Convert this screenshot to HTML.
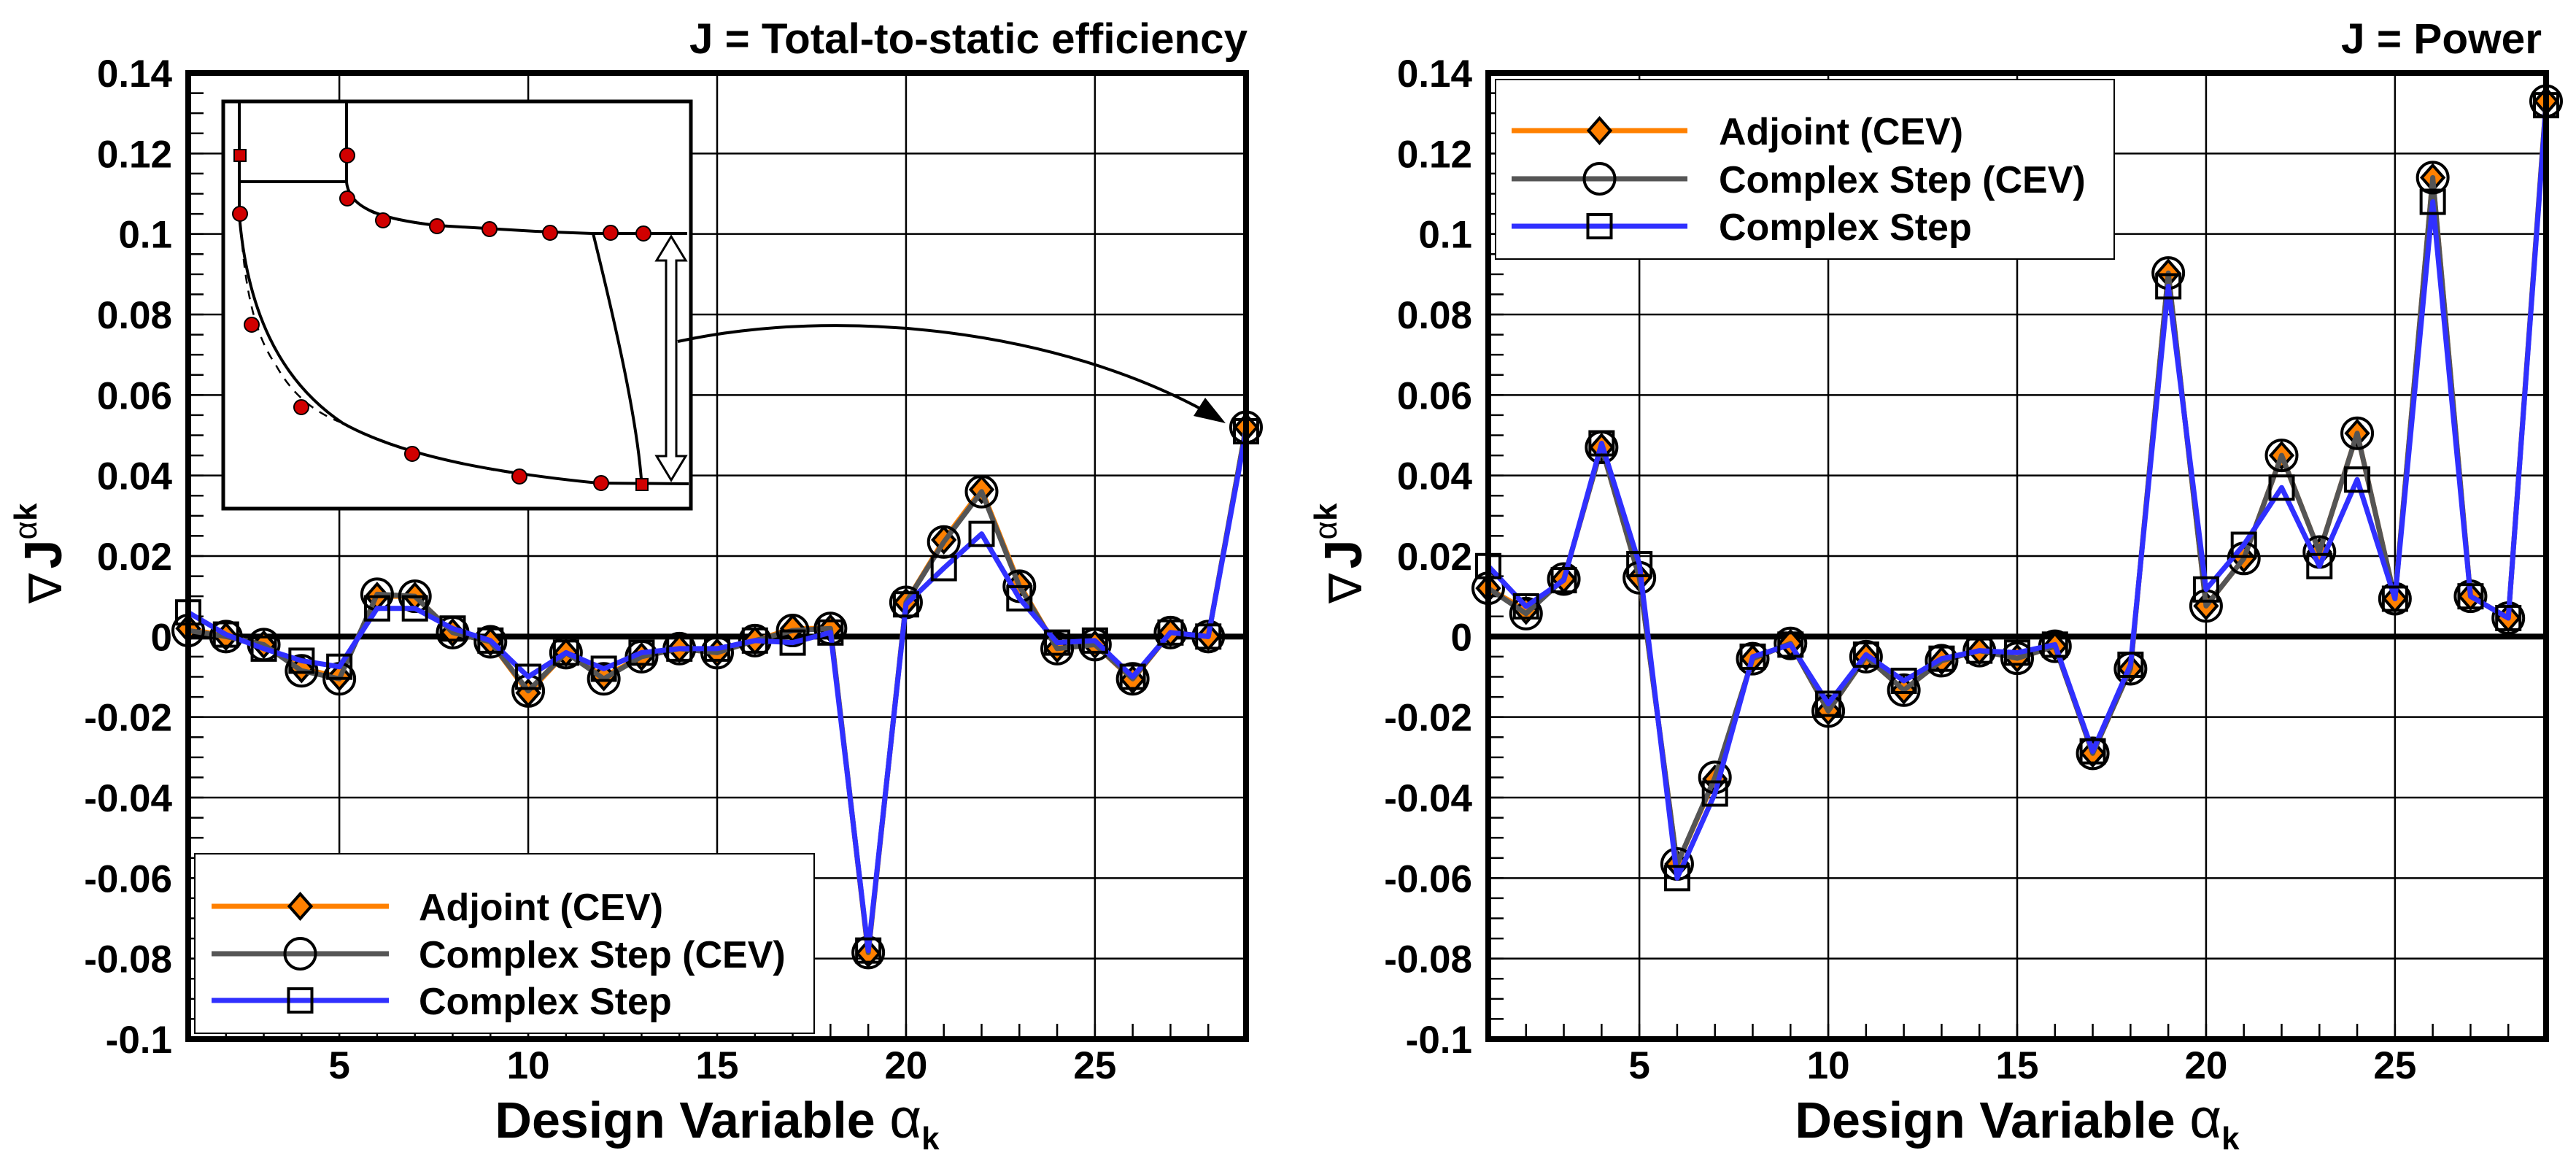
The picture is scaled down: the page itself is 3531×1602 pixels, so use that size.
<!DOCTYPE html>
<html><head><meta charset="utf-8"><style>
html,body{margin:0;padding:0;background:#fff;}
svg{display:block;font-family:"Liberation Sans",sans-serif;}
</style></head><body>
<svg id="root" width="3531" height="1602" viewBox="0 0 3531 1602" xmlns="http://www.w3.org/2000/svg">
<rect width="3531" height="1602" fill="#fff"/>
</svg>
<script>
const designVars=[1,2,3,4,5,6,7,8,9,10,11,12,13,14,15,16,17,18,19,20,21,22,23,24,25,26,27,28,29];
const yTicks=[0.14,0.12,0.1,0.08,0.06,0.04,0.02,0,-0.02,-0.04,-0.06,-0.08,-0.1];
const yTickLabels=["0.14","0.12","0.1","0.08","0.06","0.04","0.02","0","-0.02","-0.04","-0.06","-0.08","-0.1"];
const xTicks=[5,10,15,20,25];
const seriesNames=["Adjoint (CEV)","Complex Step (CEV)","Complex Step"];
// Left: total-to-static efficiency
const effAdjoint=[0.002,0.0,-0.002,-0.008,-0.010,0.010,0.010,0.001,-0.0013,-0.014,-0.004,-0.010,-0.005,-0.003,-0.004,-0.001,0.002,0.002,-0.0787,0.0085,0.024,0.0365,0.013,-0.003,-0.002,-0.0107,0.001,0.0,0.052];
const effCSCEV=[0.0015,0.0,-0.002,-0.0085,-0.0105,0.0105,0.010,0.001,-0.0013,-0.0135,-0.004,-0.0105,-0.005,-0.003,-0.004,-0.001,0.0015,0.002,-0.0785,0.0085,0.0235,0.036,0.0125,-0.003,-0.002,-0.0105,0.001,0.0,0.052];
const effCS=[0.006,0.0005,-0.003,-0.006,-0.0075,0.007,0.007,0.002,-0.001,-0.010,-0.004,-0.008,-0.004,-0.003,-0.003,-0.001,-0.0015,0.001,-0.078,0.008,0.017,0.0255,0.0095,-0.0015,-0.001,-0.010,0.001,0.0,0.051];
// Right: power
const powAdjoint=[0.012,0.0065,0.0143,0.047,0.0146,-0.0565,-0.0354,-0.0055,-0.0017,-0.0185,-0.005,-0.0133,-0.006,-0.0035,-0.0054,-0.0024,-0.029,-0.008,0.0903,0.0076,0.0194,0.045,0.021,0.0505,0.0094,0.114,0.010,0.0046,0.133];
const powCSCEV=[0.012,0.0057,0.0143,0.047,0.0146,-0.0565,-0.035,-0.0055,-0.0017,-0.0185,-0.005,-0.0133,-0.006,-0.0035,-0.0054,-0.0024,-0.029,-0.008,0.0903,0.0076,0.0194,0.045,0.021,0.0505,0.0094,0.114,0.010,0.0046,0.133];
const powCS=[0.0175,0.0075,0.014,0.048,0.018,-0.060,-0.039,-0.005,-0.002,-0.0167,-0.0045,-0.011,-0.0055,-0.0035,-0.004,-0.002,-0.0285,-0.007,0.087,0.0117,0.0228,0.037,0.0175,0.039,0.0094,0.108,0.010,0.0046,0.132];

const NS="http://www.w3.org/2000/svg";
const root=document.getElementById('root');
function mk(tag,attrs,parent){const e=document.createElementNS(NS,tag);for(const k in attrs)e.setAttribute(k,attrs[k]);(parent||root).appendChild(e);return e;}

function drawPanel(x0,x1,ya,name){
  const y0=100,y1=1424;
  const g=mk('g',{});
  
  
  const sx=v=>x0+(v-1)*(x1-x0)/28;
  const sy=v=>y0+(0.14-v)*(y1-y0)/0.24;
  yTicks.forEach(t=>{if(t!==0&&t!==0.14&&t!==-0.1){const l=mk('line',{x1:x0,x2:x1,y1:sy(t),y2:sy(t),stroke:'#000','stroke-width':2.5},g);}});
  xTicks.forEach(t=>{const l=mk('line',{x1:sx(t),x2:sx(t),y1:y0,y2:y1,stroke:'#000','stroke-width':2.5},g);});
  for(let v=-0.1;v<=0.14+1e-9;v+=0.005){mk('line',{x1:x0,x2:x0+21,y1:sy(v),y2:sy(v),stroke:'#000','stroke-width':2.5},g);}
  designVars.forEach(k=>{mk('line',{x1:sx(k),x2:sx(k),y1:y1,y2:y1-21,stroke:'#000','stroke-width':2.5},g);});
  const z=mk('line',{x1:x0,x2:x1,y1:sy(0),y2:sy(0),stroke:'#000','stroke-width':8},g);
  
  yTicks.forEach((t,i)=>{const tx=mk('text',{x:x0-22,y:sy(t)+19,'text-anchor':'end','font-size':53,'font-weight':'bold'},g);tx.textContent=yTickLabels[i];});
  xTicks.forEach(t=>{const tx=mk('text',{x:sx(t),y:1478,'text-anchor':'middle','font-size':53,'font-weight':'bold'},g);tx.textContent=String(t);});
  return {g,sx,sy};
}
function drawSeries(g,sx,sy,vals,color,marker,nm){
  const sg=mk('g',{},g);
  
  
  const pts=designVars.map((k,i)=>sx(k)+','+sy(vals[i])).join(' ');
  const pl=mk('polyline',{points:pts,fill:'none',stroke:color,'stroke-width':7,'stroke-linejoin':'round'},sg);
  
  designVars.forEach((k,i)=>{const m=drawMarker(sg,sx(k),sy(vals[i]),marker);});
}
function drawMarker(g,x,y,type){
  if(type==='diamond')return mk('polygon',{points:`${x},${y-17} ${x+15},${y} ${x},${y+17} ${x-15},${y}`,fill:'#ff8000',stroke:'#000','stroke-width':4},g);
  if(type==='circle')return mk('circle',{cx:x,cy:y,r:21,fill:'none',stroke:'#000','stroke-width':4},g);
  return mk('rect',{x:x-16,y:y-16,width:32,height:32,fill:'none',stroke:'#000','stroke-width':4},g);
}
function drawFrame(g,x0,x1){const f=mk('rect',{x:x0,y:100,width:x1-x0,height:1324,fill:'none',stroke:'#000','stroke-width':8},g);}
function drawLegend(g,bx,by,bw,bh,rows,lx0,lx1,tx){
  const lg=mk('g',{},g);
  mk('rect',{x:bx,y:by,width:bw,height:bh,fill:'#fff',stroke:'#000','stroke-width':2},lg);
  const cols=['#ff8000','#555555','#3030ff'],mks=['diamond','circle','square'];
  rows.forEach((ry,i)=>{
    const e=mk('g',{},lg);
    mk('line',{x1:lx0,x2:lx1,y1:ry,y2:ry,stroke:cols[i],'stroke-width':7},e);
    drawMarker(e,(lx0+lx1)/2,ry,mks[i]);
    const t=mk('text',{x:tx,y:ry+19,'font-size':52,'font-weight':'bold'},e);t.textContent=seriesNames[i];
  });
}
function yTitle(g,x,y){
  const t=mk('text',{transform:`translate(${x},${y}) rotate(-90)`,'font-size':72,'font-weight':'bold'},g);
  
  t.innerHTML='<tspan font-weight="normal" font-size="62">∇</tspan><tspan dx="6">J</tspan><tspan font-size="44" dy="-34" font-weight="normal">α</tspan><tspan font-size="44">k</tspan>';
}
function xTitle(g,cx){
  const t=mk('text',{x:cx,y:1559,'text-anchor':'middle','font-size':70,'font-weight':'bold'},g);
  
  t.innerHTML='Design Variable <tspan font-weight="normal" font-size="76">α</tspan><tspan font-size="44" dy="16">k</tspan>';
}

let P=drawPanel(258,1708,0,'efficiency-chart');
(function(){
  const g=mk('g',{},P.g);
  mk('rect',{x:306,y:139,width:641,height:558,fill:'#fff',stroke:'#000','stroke-width':5},g);
  const s={fill:'none',stroke:'#000','stroke-width':4};
  mk('line',Object.assign({x1:328,y1:139,x2:328,y2:294},s),g);
  mk('line',Object.assign({x1:475,y1:139,x2:475,y2:249},s),g);
  mk('line',Object.assign({x1:328,y1:249,x2:475,y2:249},s),g);
  mk('path',Object.assign({d:'M475,249 C478,285 520,300 599,309 L734,317 L812,320 L942,320'},s),g);
  mk('path',Object.assign({d:'M328,294 C338,420 380,520 470,580 C560,630 700,650 820,662 L944,663'},s),g);
  mk('path',Object.assign({d:'M813,320 C845,450 872,570 879,656'},s),g);
  const d={fill:'none',stroke:'#000','stroke-width':2.5,'stroke-dasharray':'12,10'};
  mk('path',Object.assign({d:'M476,254 C485,285 520,300 560,303 L600,309'},d),g);
  mk('path',Object.assign({d:'M330,311 C336,400 350,460 378,500 C400,540 430,565 470,580 C530,610 600,632 700,648'},d),g);
  [[329,293],[345,445],[413,558],[565,622],[712,653],[824,662],[476,213],[476,272],[525,302],[599,310],[671,314],[754,319],[837,319],[882,320]].forEach(p=>mk('circle',{cx:p[0],cy:p[1],r:10,fill:'#d00000',stroke:'#000','stroke-width':2},g));
  [[329,213],[880,664]].forEach(p=>mk('rect',{x:p[0]-8,y:p[1]-8,width:16,height:16,fill:'#d00000',stroke:'#000','stroke-width':2},g));
  mk('path',{d:'M920,324 L940,357 L927,357 L927,625 L940,625 L920,658 L900,625 L913,625 L913,357 L900,357 Z',fill:'#fff',stroke:'#000','stroke-width':3},g);
})();
const ar=mk('path',{d:'M929,468 C1150,420 1450,450 1660,568',fill:'none',stroke:'#000','stroke-width':4},P.g);

mk('polygon',{points:'1680,580 1636,570 1652,545',fill:'#000'},P.g);
drawSeries(P.g,P.sx,P.sy,effAdjoint,'#ff8000','diamond','adjoint-cev-series');
drawSeries(P.g,P.sx,P.sy,effCSCEV,'#555555','circle','complex-step-cev-series');
drawSeries(P.g,P.sx,P.sy,effCS,'#3030ff','square','complex-step-series');
drawLegend(P.g,267,1170,849,246,[1242,1307,1371],290,533,574);
drawFrame(P.g,258,1708);
yTitle(P.g,84,827);
xTitle(P.g,983);
let tt=mk('text',{x:1710,y:73,'text-anchor':'end','font-size':58,'font-weight':'bold',textLength:765,lengthAdjust:'spacingAndGlyphs'});
tt.textContent='J = Total-to-static efficiency';


let Q=drawPanel(2040,3490,0,'power-chart');
drawSeries(Q.g,Q.sx,Q.sy,powAdjoint,'#ff8000','diamond','adjoint-cev-series');
drawSeries(Q.g,Q.sx,Q.sy,powCSCEV,'#555555','circle','complex-step-cev-series');
drawSeries(Q.g,Q.sx,Q.sy,powCS,'#3030ff','square','complex-step-series');
drawLegend(Q.g,2050,109,848,246,[179,245,310],2072,2313,2356);
drawFrame(Q.g,2040,3490);
yTitle(Q.g,1866,827);
xTitle(Q.g,2765);
let t2=mk('text',{x:3484,y:73,'text-anchor':'end','font-size':58,'font-weight':'bold',textLength:275,lengthAdjust:'spacingAndGlyphs'});
t2.textContent='J = Power';

</script>
</body></html>
